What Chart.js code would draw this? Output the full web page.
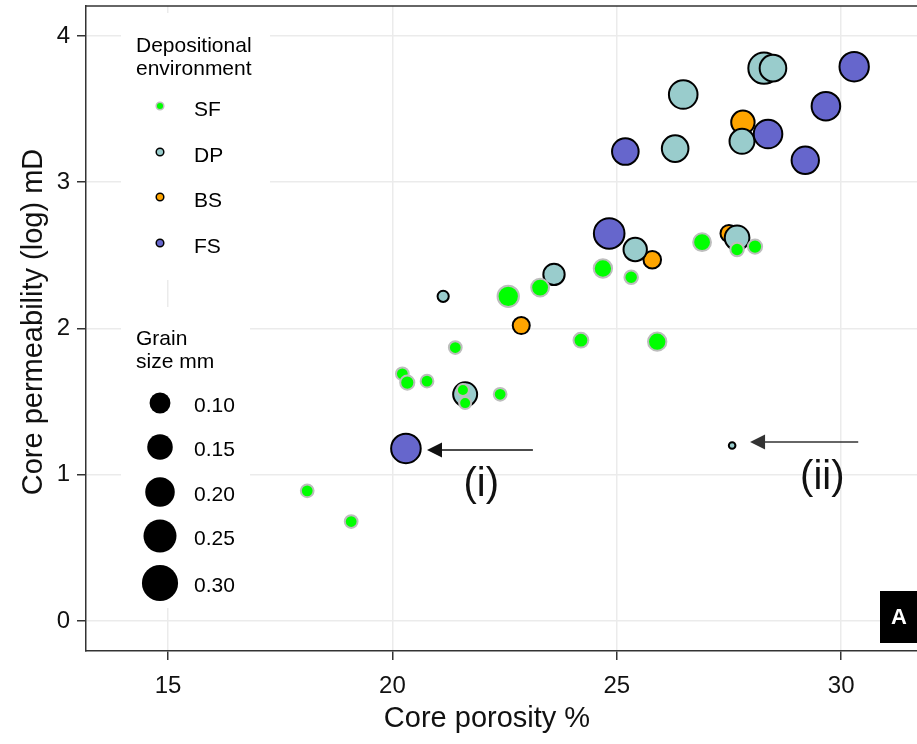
<!DOCTYPE html>
<html>
<head>
<meta charset="utf-8">
<title>Core porosity vs permeability</title>
<script src="https://cdn.jsdelivr.net/npm/chart.js@4/dist/chart.umd.min.js"></script>
<style>
  html, body { margin: 0; padding: 0; background: #fff; }
  #wrap { width: 917px; height: 744px; }
</style>
</head>
<body>
<div id="wrap"><canvas id="chart_porperm" width="917" height="744"></canvas></div>
<script>
(function(){
  'use strict';

  // axis ticks
  var xTicks = [15, 20, 25, 30];
  var yTicks = [0, 1, 2, 3, 4];

  // SF - shoreface
  var sfPorosity = [18.10, 19.08, 20.22, 20.33, 20.77, 21.40, 21.57, 21.62, 22.40, 22.58, 23.29, 24.20, 24.69, 25.32, 25.90, 26.90, 27.68, 28.08];
  var sfPerm     = [0.89, 0.68, 1.69, 1.63, 1.64, 1.87, 1.58, 1.49, 1.55, 2.22, 2.28, 1.92, 2.41, 2.35, 1.91, 2.59, 2.54, 2.56];
  var sfGrain    = [0.05, 0.05, 0.05, 0.06, 0.05, 0.05, 0.045, 0.045, 0.05, 0.125, 0.09, 0.065, 0.095, 0.055, 0.095, 0.09, 0.055, 0.06];

  // DP
  var dpPorosity = [21.13, 21.62, 23.60, 25.41, 26.30, 26.48, 27.79, 27.68, 28.28, 28.48, 27.57];
  var dpPerm     = [2.22, 1.55, 2.37, 2.54, 3.23, 3.60, 3.28, 2.62, 3.78, 3.78, 1.20];
  var dpGrain    = [0.04, 0.155, 0.125, 0.148, 0.188, 0.215, 0.167, 0.163, 0.255, 0.188, 0.017];

  // BS
  var bsPorosity = [22.87, 25.79, 27.50, 27.81];
  var bsPerm     = [2.02, 2.47, 2.65, 3.41];
  var bsGrain    = [0.083, 0.088, 0.083, 0.148];

  // FS
  var fsPorosity = [20.30, 24.83, 25.19, 28.37, 29.20, 29.66, 30.29];
  var fsPerm     = [1.18, 2.65, 3.21, 3.33, 3.15, 3.52, 3.79];
  var fsGrain    = [0.229, 0.244, 0.188, 0.215, 0.198, 0.215, 0.226];

  var envNames = ['SF', 'DP', 'BS', 'FS'];
  var envFill  = ['#00ff00', '#99cccc', '#ffa500', '#6666cc'];
  var envEdge  = ['#bdbdbd', '#000000', '#000000', '#000000'];
  var grainKey = [0.10, 0.15, 0.20, 0.25, 0.30];

  var FONT = "'Liberation Sans', Arial, Helvetica, sans-serif";
  var EDGE_W = 2;

  // outer radius in px for a grain size
  function sizeFor(g) { return 33 * Math.sqrt(g); }

  function points(xs, ys) {
    return xs.map(function(x, i){ return { x: x, y: ys[i] }; });
  }

  function makeSet(k, xs, ys, gs) {
    var r = gs.map(function(g){ return Math.max(1.5, sizeFor(g) - EDGE_W / 2); });
    return {
      label: envNames[k],
      data: points(xs, ys),
      backgroundColor: envFill[k],
      borderColor: envEdge[k],
      borderWidth: EDGE_W,
      pointRadius: r,
      pointHoverRadius: r
    };
  }

  // first dataset ends up on top
  var datasets = [
    makeSet(0, sfPorosity, sfPerm, sfGrain),
    makeSet(3, fsPorosity, fsPerm, fsGrain),
    makeSet(1, dpPorosity, dpPerm, dpGrain),
    makeSet(2, bsPorosity, bsPerm, bsGrain)
  ];

  function dot(ctx, x, y, r, fill, edge, w) {
    ctx.beginPath();
    ctx.arc(x, y, r, 0, Math.PI * 2);
    ctx.fillStyle = fill;
    ctx.fill();
    if (edge) { ctx.lineWidth = w; ctx.strokeStyle = edge; ctx.stroke(); }
  }

  function arrow(ctx, x0, y0, x1, y1, color) {
    ctx.strokeStyle = color; ctx.fillStyle = color; ctx.lineWidth = 1.5;
    ctx.beginPath(); ctx.moveTo(x0, y0); ctx.lineTo(x1 + 10, y1); ctx.stroke();
    ctx.beginPath();
    ctx.moveTo(x1, y1); ctx.lineTo(x1 + 15, y1 - 7.5); ctx.lineTo(x1 + 15, y1 + 7.5);
    ctx.closePath(); ctx.fill();
  }

  var decor = {
    id: 'decor',
    afterDraw: function(chart) {
      var ctx = chart.ctx, a = chart.chartArea;
      var xs = chart.scales.x, ys = chart.scales.y;
      ctx.save();

      // panel top edge
      ctx.strokeStyle = '#333'; ctx.lineWidth = 1.5;
      ctx.beginPath(); ctx.moveTo(a.left, a.top); ctx.lineTo(a.right, a.top); ctx.stroke();

      // legend backgrounds
      ctx.fillStyle = '#fff';
      ctx.fillRect(121, 13, 149, 267);
      ctx.fillRect(121, 307, 129, 301);

      ctx.fillStyle = '#000';
      ctx.font = '21px ' + FONT;
      ctx.textAlign = 'left'; ctx.textBaseline = 'alphabetic';
      ctx.fillText('Depositional', 136, 52);
      ctx.fillText('environment', 136, 75);
      var envY = [106, 152, 197, 243];
      envNames.forEach(function(n, i){
        dot(ctx, 160, envY[i], 3.8, envFill[i], envEdge[i], 1.5);
        ctx.fillStyle = '#000';
        ctx.textBaseline = 'middle';
        ctx.fillText(n, 194, envY[i] + 4);
      });

      ctx.textBaseline = 'alphabetic';
      ctx.fillText('Grain', 136, 345);
      ctx.fillText('size mm', 136, 368);
      var keyY = [403, 447, 492, 536, 583];
      grainKey.forEach(function(g, i){
        dot(ctx, 160, keyY[i], sizeFor(g), '#000');
        ctx.fillStyle = '#000';
        ctx.textBaseline = 'middle';
        ctx.fillText(g.toFixed(2), 194, keyY[i] + 3);
      });

      // arrows and callouts, placed in data units
      var yA = ys.getPixelForValue(1.17);
      arrow(ctx, xs.getPixelForValue(23.13), yA, xs.getPixelForValue(20.77), yA, '#111');
      var yB = ys.getPixelForValue(1.224);
      arrow(ctx, xs.getPixelForValue(30.38), yB, xs.getPixelForValue(27.97), yB, '#333');
      ctx.fillStyle = '#111';
      ctx.font = '40px ' + FONT;
      ctx.textAlign = 'center'; ctx.textBaseline = 'alphabetic';
      ctx.fillText('(i)', xs.getPixelForValue(21.98), ys.getPixelForValue(0.855));
      ctx.fillText('(ii)', xs.getPixelForValue(29.58), ys.getPixelForValue(0.906));

      // panel tag
      ctx.fillStyle = '#000';
      ctx.fillRect(880, 591, 37, 52);
      ctx.fillStyle = '#fff';
      ctx.font = 'bold 22px ' + FONT;
      ctx.textBaseline = 'middle';
      ctx.fillText('A', 899, 618);

      // axis titles
      ctx.fillStyle = '#111';
      ctx.font = '29px ' + FONT;
      ctx.textBaseline = 'alphabetic';
      ctx.fillText('Core porosity %', 487, 727);
      ctx.translate(42, 322);
      ctx.rotate(-Math.PI / 2);
      ctx.fillText('Core permeability (log) mD', 0, 0);

      ctx.restore();
    }
  };

  var axisLine = { display: true, color: '#333', width: 1.5 };
  var gridOpts = { color: '#ebebeb', lineWidth: 1.5, drawTicks: true, tickLength: 9, tickColor: '#333', tickWidth: 1.5 };

  var ctx = document.getElementById('chart_porperm').getContext('2d');
  var myChart = new Chart(ctx, {
    type: 'scatter',
    data: { datasets: datasets },
    options: {
      responsive: false,
      animation: false,
      devicePixelRatio: 1,
      events: [],
      layout: { autoPadding: false, padding: { top: 6, right: 0, left: 0, bottom: 0 } },
      plugins: { legend: { display: false }, tooltip: { enabled: false } },
      scales: {
        x: {
          type: 'linear', min: 13.17, max: 31.69,
          afterBuildTicks: function(s){ s.ticks = xTicks.map(function(v){ return { value: v }; }); },
          afterFit: function(s){ s.height = 93; s.paddingLeft = 0; s.paddingRight = 0; },
          grid: gridOpts, border: axisLine,
          ticks: { font: { family: FONT, size: 24 }, color: '#111', padding: 12, maxRotation: 0 }
        },
        y: {
          type: 'linear', min: -0.205, max: 4.205,
          afterBuildTicks: function(s){ s.ticks = yTicks.map(function(v){ return { value: v }; }); },
          afterFit: function(s){ s.width = 86; s.paddingTop = 0; s.paddingBottom = 0; },
          grid: gridOpts, border: axisLine,
          ticks: { font: { family: FONT, size: 24 }, color: '#111', padding: 7 }
        }
      }
    },
    plugins: [decor]
  });
})();
</script>
</body>
</html>
